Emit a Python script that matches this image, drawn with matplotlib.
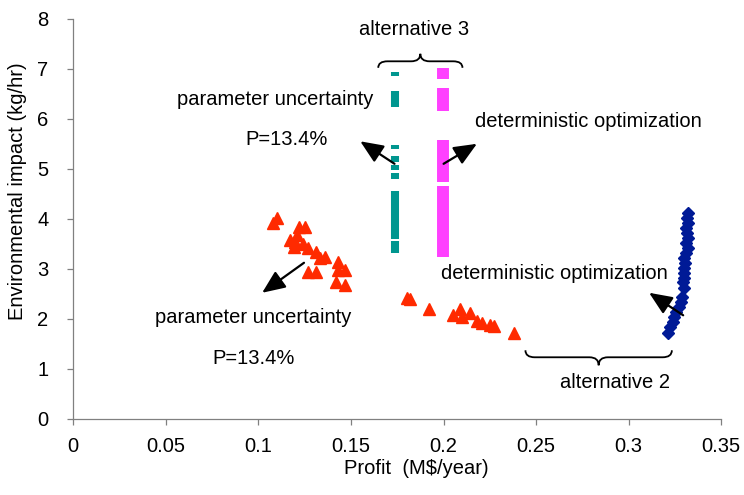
import matplotlib
matplotlib.use("Agg")
import matplotlib.pyplot as plt
from matplotlib.path import Path
from matplotlib.patches import PathPatch

plt.rcParams['font.family'] = ['Liberation Sans', 'DejaVu Sans']

# parameter uncertainty results (triangles)
tri_x = [0.110, 0.108, 0.122, 0.125, 0.121, 0.117, 0.120, 0.124, 0.119, 0.127,
         0.131, 0.136, 0.133, 0.127, 0.131, 0.143, 0.147, 0.143, 0.142, 0.147,
         0.180, 0.182, 0.192, 0.205, 0.209, 0.210, 0.214, 0.218, 0.221, 0.225,
         0.227, 0.238]
tri_y = [4.01, 3.91, 3.84, 3.84, 3.68, 3.58, 3.54, 3.50, 3.44, 3.41,
         3.34, 3.24, 3.21, 2.94, 2.94, 3.14, 2.98, 2.98, 2.74, 2.68,
         2.41, 2.39, 2.20, 2.07, 2.19, 2.04, 2.12, 1.96, 1.92, 1.88,
         1.85, 1.72]

# deterministic optimization results (diamonds)
dia_x = [0.3319, 0.3316, 0.3320, 0.3310, 0.3316, 0.3320, 0.3310, 0.3320, 0.3310,
         0.3300, 0.3305, 0.3298, 0.3300, 0.3298, 0.3292, 0.3300, 0.3287, 0.3280,
         0.3269, 0.3256, 0.3247, 0.3238, 0.3225, 0.3211]
dia_y = [4.11, 4.01, 3.91, 3.81, 3.71, 3.61, 3.51, 3.41, 3.31,
         3.21, 3.11, 3.01, 2.91, 2.81, 2.74, 2.61, 2.44, 2.34,
         2.24, 2.14, 2.04, 1.94, 1.84, 1.71]

# alternative 3: ranges covered along the vertical lines
unc3_x = 0.1735
unc3_lo = [6.86, 6.24, 5.40, 5.13, 4.97, 4.80, 3.60, 3.32]
unc3_hi = [6.94, 6.55, 5.48, 5.25, 5.08, 4.92, 4.56, 3.56]
det3_x = 0.1995
det3_lo = [6.80, 6.15, 4.73, 3.24]
det3_hi = [7.02, 6.62, 5.57, 4.65]

fs = 14.5
fig = plt.figure(figsize=(7.44, 4.95), dpi=100)
ax = fig.add_axes([0.0985, 0.154, 0.871, 0.808])

ax.vlines([unc3_x] * len(unc3_lo), unc3_lo, unc3_hi, color='#00968F', lw=5.8)
ax.vlines([det3_x] * len(det3_lo), det3_lo, det3_hi, color='#FF40FF', lw=8.6)
ax.plot(tri_x, tri_y, '^', color='#FF2A00', ms=9, mec='#FF2A00', ls='none')
ax.plot(dia_x, dia_y, 'D', color='#001A96', ms=6.5, mec='#001A96', ls='none')


def brace(x0, x1, y_end, y_mid, y_tip):
    xc = (x0 + x1) / 2
    r = 0.005
    verts = [(x0, y_end), (x0, y_mid), (x0 + r, y_mid),
             (xc - r, y_mid), (xc, y_mid), (xc, y_tip),
             (xc, y_mid), (xc + r, y_mid),
             (x1 - r, y_mid), (x1, y_mid), (x1, y_end)]
    codes = [Path.MOVETO, Path.CURVE3, Path.CURVE3,
             Path.LINETO, Path.CURVE3, Path.CURVE3,
             Path.CURVE3, Path.CURVE3,
             Path.LINETO, Path.CURVE3, Path.CURVE3]
    ax.add_patch(PathPatch(Path(verts, codes), fill=False, lw=1.3, color='black'))


brace(0.1647, 0.2102, 7.02, 7.15, 7.30)
brace(0.2442, 0.3233, 1.37, 1.23, 1.07)

ax.text(0.1838, 7.78, 'alternative 3', fontsize=fs, ha='center', va='center')
ax.text(0.2926, 0.73, 'alternative 2', fontsize=fs, ha='center', va='center')
ax.text(0.109, 6.38, 'parameter uncertainty', fontsize=fs, ha='center', va='center')
ax.text(0.115, 5.58, 'P=13.4%', fontsize=fs, ha='center', va='center')
ax.text(0.278, 5.94, 'deterministic optimization', fontsize=fs, ha='center', va='center')
ax.text(0.260, 2.90, 'deterministic optimization', fontsize=fs, ha='center', va='center')
ax.text(0.097, 2.03, 'parameter uncertainty', fontsize=fs, ha='center', va='center')
ax.text(0.0976, 1.21, 'P=13.4%', fontsize=fs, ha='center', va='center')

arrows = [((0.1735, 5.10), (0.155, 5.55)),
          ((0.2000, 5.10), (0.218, 5.50)),
          ((0.1246, 3.12), (0.102, 2.52)),
          ((0.3294, 2.07), (0.311, 2.52))]
for tail, head in arrows:
    ax.annotate('', xy=head, xytext=tail,
                arrowprops=dict(arrowstyle='-|>,head_length=0.7,head_width=0.3',
                                mutation_scale=20, lw=1.6, color='black',
                                shrinkA=0, shrinkB=0))

ax.set_xlim(0, 0.35)
ax.set_ylim(0, 8)
ax.set_xticks([0, 0.05, 0.1, 0.15, 0.2, 0.25, 0.3, 0.35])
ax.set_xticklabels(['0', '0.05', '0.1', '0.15', '0.2', '0.25', '0.3', '0.35'])
ax.set_yticks(range(9))
for s in ['top', 'right']:
    ax.spines[s].set_visible(False)
for s in ['left', 'bottom']:
    ax.spines[s].set_color('#808080')
    ax.spines[s].set_linewidth(0.9)
ax.tick_params(axis='both', colors='#808080', labelcolor='black', labelsize=fs,
               length=4, width=0.9, direction='out')
ax.tick_params(axis='x', pad=9)
ax.tick_params(axis='y', pad=14)
ax.set_xlabel('Profit  (M$/year)', fontsize=fs)
ax.set_ylabel('Environmental impact (kg/hr)', fontsize=fs)
ax.xaxis.set_label_coords(0.53, -0.1)
ax.yaxis.set_label_coords(-0.072, 0.57)

fig.savefig('out.png', dpi=100)
